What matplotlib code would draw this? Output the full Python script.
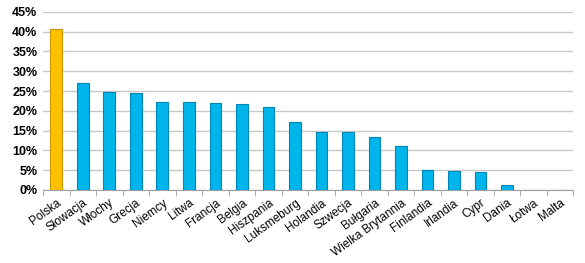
import matplotlib.pyplot as plt
import numpy as np

# share of values per country (percent)
countries = ["Polska", "Słowacja", "Włochy", "Grecja", "Niemcy", "Litwa", "Francja",
             "Belgia", "Hiszpania", "Luksmeburg", "Holandia", "Szwecja", "Bułgaria",
             "Wielka Brytannia", "Finlandia", "Irlandia", "Cypr", "Dania", "Łotwa", "Malta"]
values = [40.6, 27.1, 24.8, 24.4, 22.1, 22.1, 22.0, 21.7, 21.0, 17.2,
          14.6, 14.6, 13.5, 11.2, 5.1, 4.8, 4.5, 1.2, 0.0, 0.0]
y_ticks = [0, 5, 10, 15, 20, 25, 30, 35, 40, 45]

plt.rcParams['font.family'] = ['Liberation Sans', 'DejaVu Sans']

fig = plt.figure(figsize=(5.85, 2.63), dpi=100)
ax = fig.add_axes([0.0735, 0.2776, 0.9065, 0.6774])

x = np.arange(len(countries))
colors = ["#FFC000"] + ["#00B4EC"] * (len(countries) - 1)
edges = ["#C89600"] + ["#0085B5"] * (len(countries) - 1)
ax.bar(x, values, width=0.44, color=colors, edgecolor=edges, linewidth=0.8, zorder=3)

ax.set_xlim(-0.5, len(countries) - 0.5)
ax.set_ylim(0, 45)
ax.set_yticks(y_ticks)
ax.set_yticklabels([f"{v}%" for v in y_ticks], fontsize=9, fontweight='bold')
ax.yaxis.grid(True, color="#C8C8C8", linewidth=1.0, zorder=0)
ax.tick_params(axis='y', length=0, pad=4)

ax.set_xticks(x)
ax.set_xticklabels(countries, rotation=36, ha='right', rotation_mode='anchor', fontsize=8.5)
ax.set_xticks(np.arange(len(countries) + 1) - 0.5, minor=True)
ax.tick_params(axis='x', which='major', length=0, pad=5)
ax.tick_params(axis='x', which='minor', length=4, color="#A0A0A0", direction='out')

for s in ["top", "right", "left"]:
    ax.spines[s].set_visible(False)
ax.spines["bottom"].set_color("#A0A0A0")

plt.savefig("out.png", dpi=100)
